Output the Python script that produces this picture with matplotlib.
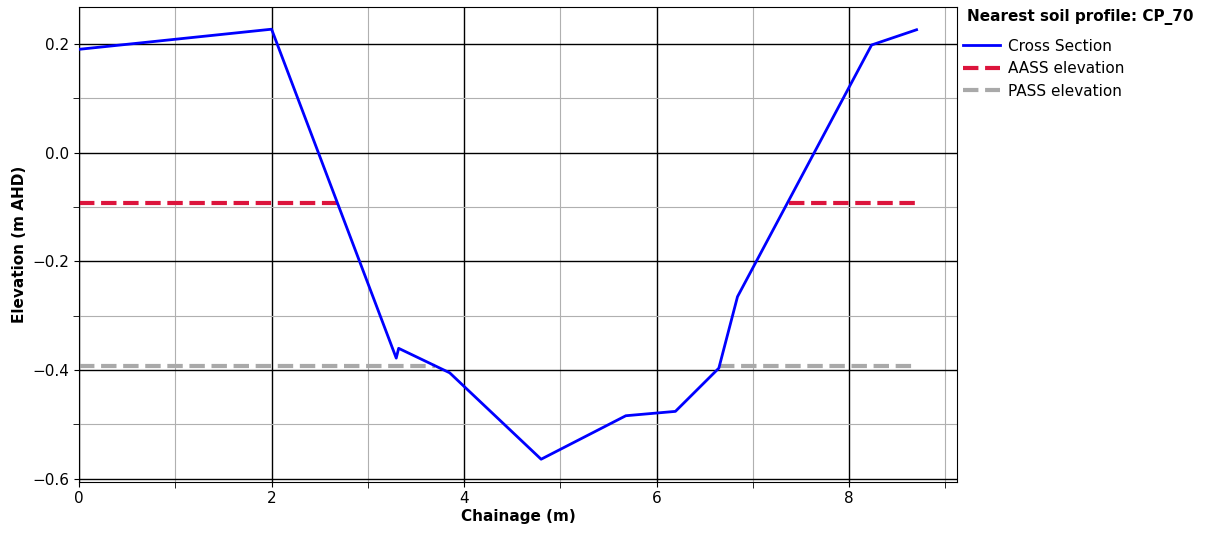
import numpy as np
import matplotlib.pyplot as plt
from matplotlib.ticker import MultipleLocator

# cross section
chainage = [0.0, 2.0, 3.295, 3.32, 3.85, 4.80, 5.68, 6.195, 6.646, 6.84, 8.233, 8.70]
elevation = [0.190, 0.227, -0.378, -0.360, -0.405, -0.564, -0.484, -0.476, -0.3965, -0.265, 0.198, 0.226]

# soil layers, only shown where the ground sits above them
aass_level = -0.092
aass_x = [0.0, 2.68, np.nan, 7.37, 8.70]
pass_level = -0.392
pass_x = [0.0, 3.70, np.nan, 6.65, 8.70]
profile = "CP_70"

plt.rcParams['font.size'] = 11

fig = plt.figure(figsize=(12.16, 5.33), dpi=100)
ax = fig.add_axes([0.065, 0.0966, 0.722, 0.8894])

ax.plot(chainage, elevation, color='blue', lw=2, label='Cross Section', zorder=3)
ax.plot(aass_x, [aass_level if not np.isnan(v) else np.nan for v in aass_x],
        color='#dc143c', ls='--', lw=3, label='AASS elevation', zorder=2)
ax.plot(pass_x, [pass_level if not np.isnan(v) else np.nan for v in pass_x],
        color='darkgray', ls='--', lw=3, label='PASS elevation', zorder=2)

ax.set_xlim(0, 9.12)
ax.set_ylim(-0.605, 0.267)
ax.xaxis.set_major_locator(MultipleLocator(2))
ax.xaxis.set_minor_locator(MultipleLocator(1))
ax.yaxis.set_major_locator(MultipleLocator(0.2))
ax.yaxis.set_minor_locator(MultipleLocator(0.1))
ax.grid(which='major', color='black', lw=1)
ax.grid(which='minor', color='#b0b0b0', lw=0.8)
ax.set_axisbelow(True)
ax.tick_params(which='minor', length=4)

ax.set_xlabel('Chainage (m)', fontweight='bold', labelpad=2)
ax.set_ylabel('Elevation (m AHD)', fontweight='bold')

leg = ax.legend(loc='upper left', bbox_to_anchor=(0.995, 1.02), frameon=False,
                title='Nearest soil profile: ' + profile, borderaxespad=0.3,
                handlelength=2.4, handletextpad=0.5, labelspacing=0.5)
leg.get_title().set_fontweight('bold')
leg.get_title().set_x(4)
leg._legend_box.align = 'left'
leg._legend_box.sep = 10

fig.savefig('out.png', dpi=100)
